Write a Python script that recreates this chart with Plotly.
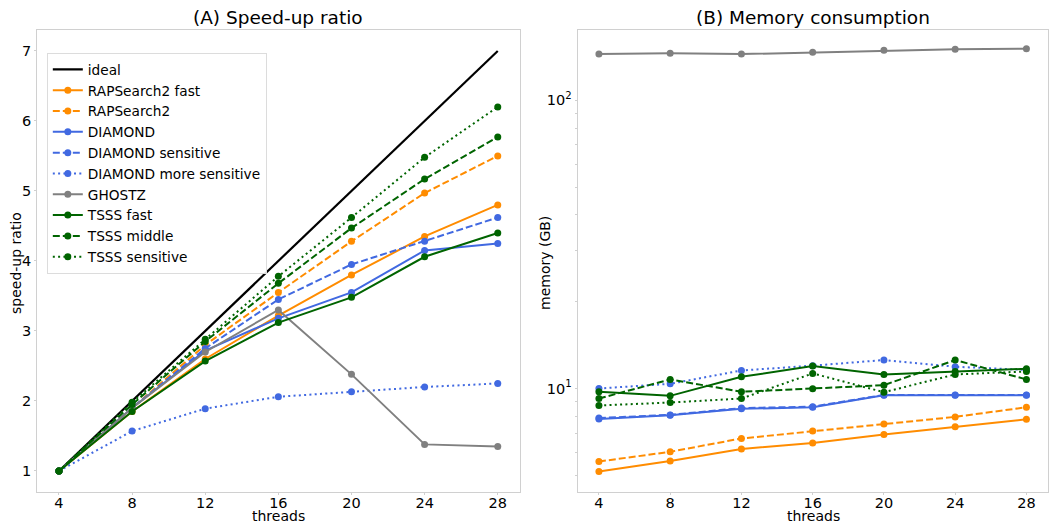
import plotly.graph_objects as go
from plotly.subplots import make_subplots

threads = [4, 8, 12, 16, 20, 24, 28]

# (A) speed-up ratio
ideal = [1, 2, 3, 4, 5, 6, 7]
sp_rap_fast = [1, 1.85, 2.60, 3.22, 3.80, 4.35, 4.80]
sp_rap = [1, 1.90, 2.80, 3.55, 4.28, 4.97, 5.50]
sp_dia = [1, 1.90, 2.72, 3.18, 3.55, 4.15, 4.25]
sp_dia_sens = [1, 1.90, 2.75, 3.45, 3.95, 4.28, 4.62]
sp_dia_more = [1, 1.57, 1.89, 2.06, 2.13, 2.20, 2.25]
sp_ghostz = [1, 1.90, 2.70, 3.30, 2.38, 1.38, 1.35]
sp_tsss_fast = [1, 1.85, 2.57, 3.12, 3.48, 4.06, 4.40]
sp_tsss_mid = [1, 1.95, 2.85, 3.68, 4.47, 5.17, 5.77]
sp_tsss_sens = [1, 1.98, 2.88, 3.78, 4.62, 5.48, 6.20]

# (B) memory consumption (GB)
mem_rap_fast = [5.15, 5.6, 6.17, 6.47, 6.93, 7.37, 7.82]
mem_rap = [5.58, 6.03, 6.71, 7.12, 7.53, 7.97, 8.61]
mem_dia = [7.84, 8.07, 8.50, 8.61, 9.48, 9.48, 9.48]
mem_dia_sens = [7.90, 8.10, 8.55, 8.65, 9.50, 9.50, 9.50]
mem_dia_more = [10.0, 10.38, 11.55, 12.0, 12.55, 11.9, 11.6]
mem_ghostz = [144.6, 145.5, 144.6, 146.6, 149.0, 150.2, 150.9]
mem_tsss_fast = [9.74, 9.43, 10.98, 11.96, 11.19, 11.46, 11.71]
mem_tsss_mid = [9.23, 10.75, 9.74, 9.98, 10.27, 12.55, 10.75]
mem_tsss_sens = [8.73, 8.94, 9.23, 11.28, 9.71, 11.19, 11.46]

ORANGE = "#ff8c00"
BLUE = "#4169e1"
GRAY = "#808080"
GREEN = "#006400"
SOLID, DASH, DOT = "solid", "7px,3px", "2px,3.3px"

series = [
    ("RAPSearch2 fast", sp_rap_fast, mem_rap_fast, ORANGE, SOLID),
    ("RAPSearch2", sp_rap, mem_rap, ORANGE, DASH),
    ("DIAMOND", sp_dia, mem_dia, BLUE, SOLID),
    ("DIAMOND sensitive", sp_dia_sens, mem_dia_sens, BLUE, DASH),
    ("DIAMOND more sensitive", sp_dia_more, mem_dia_more, BLUE, DOT),
    ("GHOSTZ", sp_ghostz, mem_ghostz, GRAY, SOLID),
    ("TSSS fast", sp_tsss_fast, mem_tsss_fast, GREEN, SOLID),
    ("TSSS middle", sp_tsss_mid, mem_tsss_mid, GREEN, DASH),
    ("TSSS sensitive", sp_tsss_sens, mem_tsss_sens, GREEN, DOT),
]

FONT = "DejaVu Sans"
fig = make_subplots(rows=1, cols=2)

fig.add_trace(go.Scatter(x=threads, y=ideal, mode="lines", name="ideal",
                         line=dict(color="black", width=2.2)), row=1, col=1)
for name, sp, mem, col, dash in series:
    fig.add_trace(go.Scatter(x=threads, y=sp, mode="lines+markers", name=name,
                             line=dict(color=col, width=2, dash=dash),
                             marker=dict(color=col, size=7)), row=1, col=1)
    fig.add_trace(go.Scatter(x=threads, y=mem, mode="lines+markers", name=name,
                             showlegend=False,
                             line=dict(color=col, width=2, dash=dash),
                             marker=dict(color=col, size=7)), row=1, col=2)

axis_common = dict(showline=True, linecolor="#d0d0d0", linewidth=1, mirror=True,
                   showgrid=False, zeroline=False, ticks="outside", ticklen=2,
                   tickcolor="#d0d0d0", tickfont=dict(size=14.5, color="black", family=FONT))

Y_DOM = [0.0629, 0.943]
fig.update_xaxes(**axis_common, tickvals=threads, range=[2.8, 29.2], ticklabelstandoff=-4)
fig.update_xaxes(domain=[0.0352, 0.494], row=1, col=1)
fig.update_xaxes(domain=[0.549, 0.996], row=1, col=2)

fig.update_yaxes(**axis_common)
fig.update_yaxes(domain=Y_DOM, range=[0.7, 7.3], tickvals=[1, 2, 3, 4, 5, 6, 7], row=1, col=1)
fig.update_yaxes(domain=Y_DOM, type="log", range=[0.641, 2.244],
                 tickvals=[10, 100], ticktext=["10<sup>1</sup>", "10<sup>2</sup>"],
                 minor=dict(tickvals=[5, 6, 7, 8, 9, 20, 30, 40, 50, 60, 70, 80, 90],
                            ticks="outside", ticklen=2, tickcolor="#d0d0d0"),
                 row=1, col=2)

def ann(text, x, y, size, angle=0):
    fig.add_annotation(text=text, x=x / 1052, y=1 - y / 525, xref="paper", yref="paper",
                       xanchor="center", yanchor="middle", showarrow=False, textangle=angle,
                       font=dict(size=size, family=FONT, color="black"))

ann("(A) Speed-up ratio", 278, 17, 18.5)
ann("(B) Memory consumption", 813, 17, 18.5)
ann("threads", 278, 516, 14)
ann("threads", 813, 516, 14)
ann("speed-up ratio", 16, 263, 14, -90)
ann("memory (GB)", 545, 263, 14, -90)

fig.update_layout(
    width=1052, height=525,
    margin=dict(l=0, r=0, t=0, b=0),
    plot_bgcolor="white", paper_bgcolor="white",
    font=dict(family=FONT, color="black"),
    legend=dict(x=0.0445, y=0.899, xanchor="left", yanchor="top",
                bgcolor="rgba(255,255,255,0.85)", bordercolor="#dcdcdc", borderwidth=1,
                font=dict(size=13.7, family=FONT, color="black"), tracegroupgap=0,
                itemwidth=30),
)

fig.write_html("out.html")
